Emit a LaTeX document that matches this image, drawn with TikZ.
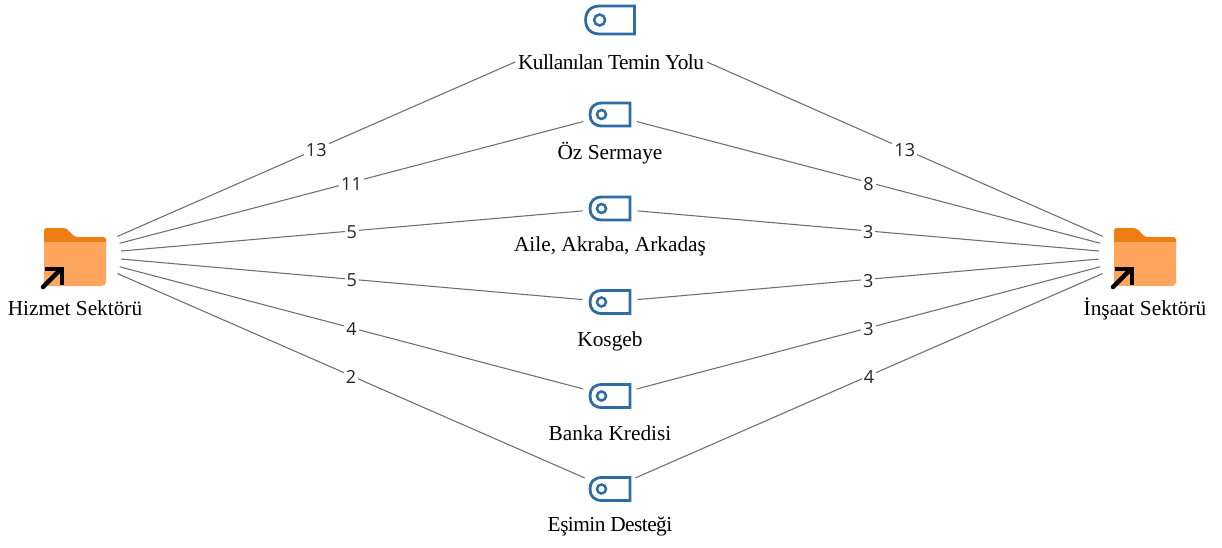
\documentclass[tikz,border=0pt]{standalone}
\usepackage{fontspec}
\setmainfont{Liberation Serif}
\newfontfamily\sikifont[LetterSpace=-2.5]{Liberation Serif}
\newfontfamily\sayifont{Open Sans}
\usetikzlibrary{positioning,calc}

\definecolor{koyu}{HTML}{EE7D14}
\definecolor{acik}{HTML}{FFA65E}
\definecolor{mavi}{HTML}{2E6CA6}
\definecolor{cizgi}{HTML}{6E6E6E}

\tikzset{
    klasor/.pic={
        \fill[koyu, rounded corners=2] (-31,-5) -- (-31,-27) -- (-9,-27) -- (0,-18) -- (31,-18) -- (31,-5) -- cycle;
        \fill[acik] (-31,-13) -- (31,-13) -- (31,27) arc (0:90:4) -- (-27,31) arc (90:180:4) -- cycle;
        \draw[black, line width=3.4pt, line cap=round] (-32,32) -- (-15,15);
        \draw[black, line width=3.4pt] (-30,14) -- (-13,14) -- (-13,30);
    },
    anahtar/.pic={
        \draw[mavi, line width=2.1pt, line join=miter] (20,-11.5) -- (20,11.5) -- (-8,11.5) .. controls (-16,11.5) and (-20,7) .. (-20,0) .. controls (-20,-7) and (-16,-11.5) .. (-8,-11.5) -- cycle;
        \draw[mavi, line width=1.9pt] (-8.5,0) circle (4.5);
    }
}

\begin{document}
\begin{tikzpicture}[x=0.75pt, y=-0.75pt]
        \tikzstyle{uc}=[circle, inner sep=0pt, minimum size=69pt]
        \tikzstyle{orta}=[circle, inner sep=0pt, minimum size=41pt]
        \tikzstyle{yazi}=[font=\fontsize{16}{18}\selectfont, inner sep=2pt]
        \tikzstyle{sikiyazi}=[font=\sikifont\fontsize{16}{18}\selectfont, inner sep=2pt]
        \tikzstyle{bag}=[draw=cizgi, line width=0.8pt]
        \tikzstyle{sayi}=[fill=white, inner sep=1.5pt, yshift=-1pt, font=\sayifont\fontsize{13.5}{15}\selectfont, text=black!85]

        \useasboundingbox (0,0) rectangle (1222,547);

        \node[uc] (hizmet) at (75,255) {};
        \node[uc] (insaat) at (1145,255) {};
        \pic at (hizmet) {klasor};
        \pic at (insaat) {klasor};
        \node[yazi] (hizmetyazi) at (75,308) {Hizmet Sektörü};
        \node[yazi] (insaatyazi) at (1145,309) {İnşaat Sektörü};

        \node[orta] (temin) at (610,20) {};
        \node[orta] (oz) at (610,114.5) {};
        \node[orta] (aile) at (610,208.5) {};
        \node[orta] (kosgeb) at (610,302) {};
        \node[orta] (banka) at (610,396) {};
        \node[orta] (esim) at (610,489) {};

        \pic[scale=1.22] at (temin) {anahtar};
        \pic at (oz) {anahtar};
        \pic at (aile) {anahtar};
        \pic at (kosgeb) {anahtar};
        \pic at (banka) {anahtar};
        \pic at (esim) {anahtar};

        \node[sikiyazi] (teminyazi) at (611,62) {Kullanılan Temin Yolu};
        \node[yazi] (ozyazi) at (610,153) {Öz Sermaye};
        \node[yazi] (aileyazi) at (610,246.5) {Aile, Akraba, Arkadaş};
        \node[yazi] (kosgebyazi) at (610,341) {Kosgeb};
        \node[yazi] (bankayazi) at (610,433) {Banka Kredisi};
        \node[sikiyazi] (esimyazi) at (610,527) {Eşimin Desteği};

        \draw[bag] (hizmet) -- node[sayi] {13} (teminyazi.west);
        \draw[bag] (hizmet) -- node[sayi] {11} (oz);
        \draw[bag] (hizmet) -- node[sayi] {5} (aile);
        \draw[bag] (hizmet) -- node[sayi] {5} (kosgeb);
        \draw[bag] (hizmet) -- node[sayi] {4} (banka);
        \draw[bag] (hizmet) -- node[sayi] {2} (esim);

        \draw[bag] (insaat) -- node[sayi] {13} (teminyazi.east);
        \draw[bag] (insaat) -- node[sayi] {8} (oz);
        \draw[bag] (insaat) -- node[sayi] {3} (aile);
        \draw[bag] (insaat) -- node[sayi] {3} (kosgeb);
        \draw[bag] (insaat) -- node[sayi] {3} (banka);
        \draw[bag] (insaat) -- node[sayi] {4} (esim);
    \end{tikzpicture}
\end{document}
